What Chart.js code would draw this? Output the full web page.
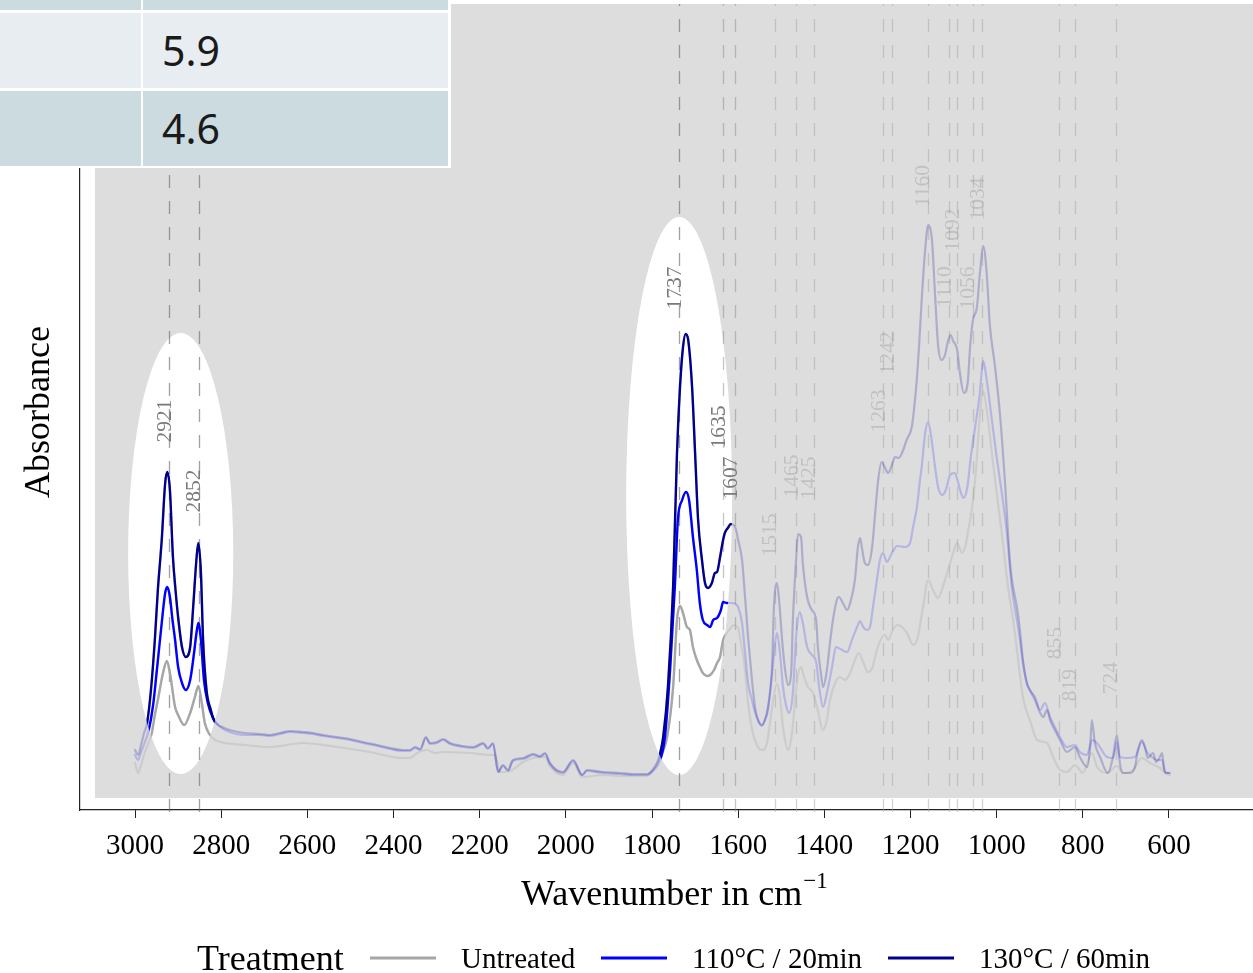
<!DOCTYPE html>
<html>
<head>
<meta charset="utf-8">
<title>FTIR spectra by treatment</title>
<script src="https://cdn.jsdelivr.net/npm/chart.js@4.4.1/dist/chart.umd.min.js"></script>
<style>
  html, body { margin: 0; padding: 0; background: #ffffff; }
  #wrap { position: relative; width: 1253px; height: 973px; overflow: hidden; }
  #spectra { position: absolute; left: 0; top: 0; }
  #summary { position: absolute; left: 0; top: 0; width: 451px; height: 168px; background: #ffffff; }
  #summary .cell { position: absolute; box-sizing: border-box; font-family: "Noto Sans", sans-serif; font-size: 41px; color: #1a1a1a; padding-left: 19px; white-space: nowrap; }
  #summary .odd { background: #cbdbe0; }
  #summary .even { background: #e8edf1; }
</style>
</head>
<body>
<div id="wrap">
  <canvas id="spectra" width="1253" height="973"></canvas>
  <div id="summary"></div>
</div>
<script>
// ---- spectra (wavenumber in cm^-1, absorbance) ----
const wnHarsh = [3000,2993,2986,2979,2972,2963,2954,2947,2938,2930,2925,2919,2912,2906,2900,2891,2882,2872,2865,2857,
  2853,2847,2842,2834,2824,2817,2807,2798,2780,2745,2710,2687,2663,2640,2610,2587,2564,2531,2501,2471,
  2438,2408,2378,2362,2350,2338,2325,2315,2299,2285,2269,2239,2215,2192,2181,2169,2157,2146,2134,2123,
  2099,2076,2060,2048,2037,2007,1983,1962,1951,1914,1874,1844,1812,1798,1788,1781,1774,1763,1751,1742,
  1735,1728,1722,1716,1707,1700,1693,1684,1677,1670,1661,1654,1649,1642,1635,1631,1624,1617,1607,1600,
  1591,1584,1577,1568,1561,1554,1545,1538,1531,1521,1517,1510,1505,1498,1491,1484,1477,1473,1466,1461,
  1454,1450,1440,1429,1419,1415,1408,1403,1394,1387,1380,1371,1366,1357,1347,1340,1329,1322,1317,1313,
  1306,1299,1289,1282,1275,1267,1259,1252,1243,1236,1227,1217,1209,1197,1192,1186,1180,1174,1166,1159,
  1150,1143,1136,1128,1120,1113,1107,1101,1092,1085,1076,1067,1062,1055,1046,1039,1031,1023,1016,1004,
  992,981,969,962,953,946,939,930,923,911,899,892,883,876,865,853,837,818,807,790,
  783,779,772,760,742,730,721,714,707,690,679,672,663,656,649,637,630,621,616,612,607,598];
const absHarsh = [0.050,0.045,0.055,0.067,0.077,0.110,0.160,0.210,0.260,0.317,0.328,0.310,0.243,0.210,0.183,0.153,0.143,0.153,0.193,0.243,
  0.257,0.227,0.160,0.110,0.090,0.080,0.075,0.073,0.070,0.067,0.066,0.065,0.067,0.069,0.068,0.067,0.065,0.063,0.061,0.058,
  0.055,0.052,0.050,0.050,0.053,0.051,0.063,0.057,0.058,0.061,0.057,0.054,0.053,0.057,0.052,0.057,0.028,0.035,0.030,0.040,
  0.042,0.046,0.044,0.047,0.037,0.028,0.040,0.025,0.030,0.028,0.027,0.026,0.026,0.030,0.037,0.047,0.063,0.113,0.213,0.347,
  0.413,0.453,0.466,0.460,0.413,0.347,0.280,0.240,0.217,0.212,0.217,0.227,0.228,0.243,0.260,0.267,0.272,0.276,0.273,0.260,
  0.240,0.203,0.163,0.120,0.093,0.080,0.075,0.080,0.090,0.137,0.193,0.217,0.200,0.160,0.130,0.115,0.127,0.180,0.237,0.266,
  0.263,0.237,0.203,0.190,0.180,0.153,0.127,0.113,0.130,0.157,0.180,0.200,0.203,0.197,0.190,0.197,0.220,0.253,0.262,0.253,
  0.237,0.235,0.253,0.287,0.320,0.338,0.332,0.327,0.335,0.343,0.342,0.350,0.360,0.373,0.390,0.417,0.455,0.500,0.550,0.575,
  0.559,0.505,0.455,0.440,0.445,0.459,0.465,0.459,0.451,0.426,0.407,0.418,0.451,0.480,0.492,0.526,0.554,0.526,0.476,0.434,
  0.384,0.320,0.237,0.213,0.193,0.170,0.140,0.117,0.110,0.100,0.087,0.083,0.090,0.080,0.070,0.060,0.048,0.053,0.043,0.033,
  0.053,0.080,0.057,0.043,0.027,0.043,0.065,0.037,0.027,0.027,0.033,0.050,0.060,0.053,0.042,0.047,0.038,0.043,0.047,0.033,0.027,0.027];

const wnMild = [3000,2993,2986,2977,2968,2958,2950,2944,2938,2930,2925,2919,2913,2907,2900,2891,2882,2872,2863,2858,
  2853,2847,2840,2831,2819,2807,2791,2745,2710,2687,2663,2640,2610,2587,2564,2531,2501,2471,2438,2408,
  2378,2362,2350,2338,2325,2315,2299,2285,2269,2239,2215,2192,2181,2169,2157,2146,2134,2123,2099,2076,
  2060,2048,2037,2007,1983,1962,1951,1914,1874,1844,1812,1798,1781,1770,1758,1747,1740,1730,1721,1714,
  1705,1696,1689,1682,1672,1665,1658,1649,1640,1635,1626,1614,1607,1600,1591,1584,1577,1568,1561,1554,
  1545,1538,1531,1521,1515,1510,1503,1496,1489,1482,1473,1466,1457,1450,1440,1429,1419,1412,1403,1394,
  1382,1373,1359,1347,1336,1324,1317,1310,1301,1294,1287,1278,1271,1264,1255,1243,1231,1213,1201,1194,
  1185,1178,1174,1166,1159,1151,1143,1136,1126,1118,1108,1097,1091,1085,1077,1068,1060,1050,1040,1031,
  1024,1012,1000,988,977,965,953,946,939,930,923,911,899,888,876,865,853,837,818,807,
  790,779,767,744,730,721,714,698,679,663,651,640,628,616,609,600];
const absMild = [0.045,0.040,0.048,0.058,0.070,0.095,0.127,0.152,0.177,0.207,0.213,0.203,0.180,0.160,0.133,0.117,0.110,0.120,0.147,0.165,
  0.177,0.160,0.120,0.097,0.082,0.075,0.070,0.065,0.065,0.064,0.066,0.068,0.067,0.066,0.064,0.062,0.060,0.057,0.054,0.051,
  0.049,0.049,0.052,0.050,0.062,0.056,0.057,0.060,0.056,0.053,0.052,0.056,0.051,0.056,0.028,0.034,0.029,0.039,0.041,0.045,
  0.043,0.046,0.036,0.027,0.039,0.025,0.029,0.027,0.026,0.025,0.025,0.029,0.040,0.063,0.130,0.213,0.280,0.300,0.308,0.300,
  0.263,0.230,0.197,0.180,0.175,0.173,0.180,0.182,0.190,0.198,0.197,0.197,0.196,0.193,0.177,0.147,0.117,0.100,0.088,0.080,
  0.074,0.080,0.093,0.127,0.155,0.167,0.147,0.113,0.095,0.087,0.107,0.160,0.188,0.177,0.153,0.145,0.138,0.113,0.093,0.107,
  0.133,0.153,0.150,0.148,0.160,0.173,0.179,0.173,0.170,0.173,0.193,0.220,0.240,0.247,0.238,0.247,0.254,0.253,0.257,0.273,
  0.293,0.320,0.333,0.367,0.378,0.360,0.333,0.313,0.305,0.310,0.325,0.327,0.320,0.310,0.302,0.313,0.343,0.373,0.403,0.439,
  0.423,0.383,0.343,0.307,0.270,0.213,0.180,0.160,0.137,0.117,0.110,0.103,0.090,0.097,0.083,0.073,0.063,0.053,0.055,0.048,
  0.045,0.060,0.057,0.043,0.042,0.058,0.043,0.042,0.043,0.058,0.048,0.043,0.040,0.040,0.028,0.027];

const wnUntreated = [3000,2993,2986,2977,2961,2954,2947,2935,2926,2919,2907,2900,2886,2872,2861,2853,2845,2838,2826,2814,
  2791,2745,2687,2610,2531,2455,2378,2362,2345,2322,2304,2285,2222,2176,2164,2153,2130,2099,2076,2048,
  2037,2007,1983,1962,1914,1874,1835,1812,1798,1781,1765,1751,1742,1735,1728,1719,1712,1705,1696,1689,
  1682,1672,1665,1656,1649,1642,1635,1626,1617,1610,1600,1596,1584,1577,1566,1554,1545,1533,1521,1510,
  1503,1496,1484,1475,1463,1454,1447,1438,1426,1417,1403,1394,1387,1375,1364,1352,1340,1329,1320,1310,
  1299,1289,1278,1266,1259,1252,1241,1231,1220,1208,1194,1183,1171,1159,1148,1136,1125,1113,1101,1092,
  1080,1071,1067,1057,1050,1039,1032,1020,1009,997,985,974,962,953,946,939,930,923,906,883,
  869,853,837,818,800,779,767,744,721,707,683,663,644,621,609,598];
const absUntreated = [0.037,0.027,0.035,0.048,0.067,0.085,0.100,0.127,0.139,0.127,0.093,0.085,0.075,0.087,0.103,0.114,0.097,0.077,0.065,0.060,
  0.057,0.055,0.053,0.057,0.053,0.048,0.042,0.042,0.047,0.050,0.047,0.048,0.047,0.045,0.045,0.028,0.029,0.038,0.042,0.043,
  0.034,0.025,0.037,0.023,0.025,0.024,0.024,0.024,0.031,0.043,0.063,0.113,0.180,0.194,0.187,0.173,0.170,0.153,0.140,0.133,
  0.127,0.124,0.125,0.130,0.137,0.143,0.160,0.167,0.172,0.175,0.172,0.163,0.130,0.097,0.067,0.053,0.050,0.057,0.093,0.116,
  0.103,0.073,0.050,0.067,0.120,0.133,0.123,0.113,0.107,0.093,0.070,0.080,0.100,0.117,0.123,0.120,0.127,0.140,0.147,0.138,
  0.128,0.132,0.150,0.163,0.165,0.160,0.170,0.175,0.173,0.167,0.155,0.163,0.193,0.220,0.210,0.202,0.213,0.230,0.247,0.257,
  0.247,0.257,0.267,0.293,0.320,0.384,0.409,0.380,0.339,0.297,0.256,0.214,0.181,0.150,0.125,0.103,0.088,0.080,0.060,0.057,
  0.043,0.030,0.028,0.035,0.027,0.047,0.033,0.027,0.034,0.027,0.030,0.042,0.037,0.032,0.027,0.025];

const treatments = ['Untreated', '110°C / 20min', '130°C / 60min'];
const treatmentColors = ['#a6a6a6', '#0000ff', '#00008b'];

// assigned band positions and where their labels sit (absorbance)
const peakPositions = [2921, 2852, 1737, 1635, 1607, 1515, 1465, 1425, 1263, 1242, 1160, 1110, 1092, 1056, 1034, 855, 819, 724];
const peakLabelLevels = [0.379, 0.309, 0.512, 0.373, 0.322, 0.265, 0.324, 0.322, 0.389, 0.447, 0.614, 0.513, 0.570, 0.512, 0.601, 0.157, 0.115, 0.122];
const highlightedPeaks = [2921, 2852, 1737, 1635, 1607];

// C-H stretch and C=O stretch windows (centre / half-width in cm^-1, level / half-height in absorbance)
const windowCentres = [2894, 1737];
const windowHalfWidths = [122, 123];
const windowLevels = [0.2465, 0.304];
const windowHalfHeights = [0.2205, 0.279];

const xTicks = [3000, 2800, 2600, 2400, 2200, 2000, 1800, 1600, 1400, 1200, 1000, 800, 600];
const summaryValues = ['', '5.9', '4.6'];

// ---- summary table ----
(function buildSummary() {
  const box = document.getElementById('summary');
  const rows = [{ top: -66, h: 75.5 }, { top: 12.5, h: 75.8 }, { top: 90.8, h: 75 }];
  rows.forEach((r, i) => {
    const cls = i % 2 === 1 ? 'even' : 'odd';
    const a = document.createElement('div');
    a.className = 'cell ' + cls;
    a.style.cssText = `left:0;top:${r.top}px;width:141px;height:${r.h}px;`;
    box.appendChild(a);
    const b = document.createElement('div');
    b.className = 'cell ' + cls;
    b.style.cssText = `left:143px;top:${r.top}px;width:305px;height:${r.h}px;line-height:${r.h}px;`;
    b.textContent = summaryValues[i];
    box.appendChild(b);
  });
})();

// ---- chart ----
function rgba(hex, a) {
  const n = parseInt(hex.slice(1), 16);
  return `rgba(${(n >> 16) & 255},${(n >> 8) & 255},${n & 255},${a})`;
}
const series = [
  { wn: wnUntreated, abs: absUntreated },
  { wn: wnMild, abs: absMild },
  { wn: wnHarsh, abs: absHarsh }
];
const contextAlpha = [0.3, 0.18, 0.22];
const toPoints = s => s.wn.map((w, i) => ({ x: w, y: s.abs[i] }));

const datasets = [];
series.forEach((s, i) => {
  datasets.push({
    label: treatments[i], data: toPoints(s), borderColor: treatmentColors[i],
    borderWidth: 2.4, emphasis: true, order: 3 - i
  });
  datasets.push({
    label: treatments[i] + ' (context)', data: toPoints(s),
    borderColor: rgba(treatmentColors[i], contextAlpha[i]),
    borderWidth: 2.2, emphasis: false, order: 10 - i
  });
});

function windowsPath(chart) {
  const xs = chart.scales.x, ys = chart.scales.y;
  const p = new Path2D();
  windowCentres.forEach((c, i) => {
    const cx = xs.getPixelForValue(c), cy = ys.getPixelForValue(windowLevels[i]);
    const rx = Math.abs(xs.getPixelForValue(c + windowHalfWidths[i]) - cx);
    const ry = Math.abs(ys.getPixelForValue(windowLevels[i] + windowHalfHeights[i]) - cy);
    p.moveTo(cx + rx, cy);
    p.ellipse(cx, cy, rx, ry, 0, 0, Math.PI * 2);
  });
  return p;
}

const SERIF = '"Liberation Serif", "Times New Roman", serif';

function guideColour(wn) {
  if (wn === 1635 || wn === 1607) return 'rgba(140,140,140,0.5)';
  return highlightedPeaks.includes(wn) ? 'rgba(110,110,110,0.65)' : 'rgba(165,165,165,0.5)';
}

const spectraDecor = {
  id: 'spectraDecor',
  beforeDraw(chart) {
    const { ctx, chartArea } = chart;
    ctx.save();
    ctx.fillStyle = '#ffffff';
    ctx.fillRect(0, 0, chart.width, chart.height);
    ctx.fillStyle = '#dddddd';
    ctx.fillRect(95, chartArea.top, chartArea.right - 95, 798 - chartArea.top);
    ctx.restore();
  },
  beforeDatasetsDraw(chart) {
    const { ctx, chartArea } = chart;
    const xs = chart.scales.x;
    ctx.save();
    ctx.fillStyle = '#ffffff';
    ctx.fill(windowsPath(chart));
    ctx.lineWidth = 1.3;
    ctx.setLineDash([13, 13]);
    peakPositions.forEach(wn => {
      const x = Math.round(xs.getPixelForValue(wn)) + 0.5;
      ctx.strokeStyle = guideColour(wn);
      ctx.beginPath();
      ctx.moveTo(x, chartArea.bottom + 2);
      ctx.lineTo(x, chartArea.top);
      ctx.stroke();
    });
    ctx.restore();
  },
  beforeDatasetDraw(chart, args) {
    const ds = chart.data.datasets[args.index];
    if (!ds.emphasis) return;
    chart.ctx.save();
    chart.ctx.clip(windowsPath(chart));
  },
  afterDatasetDraw(chart, args) {
    const ds = chart.data.datasets[args.index];
    if (!ds.emphasis) return;
    chart.ctx.restore();
  },
  afterDatasetsDraw(chart) {
    const { ctx } = chart;
    const xs = chart.scales.x, ys = chart.scales.y;
    ctx.save();
    ctx.font = '21.5px ' + SERIF;
    ctx.textAlign = 'center';
    ctx.textBaseline = 'alphabetic';
    peakPositions.forEach((wn, i) => {
      const x = xs.getPixelForValue(wn), y = ys.getPixelForValue(peakLabelLevels[i]);
      ctx.save();
      ctx.translate(x + 1.5, y);
      ctx.rotate(-Math.PI / 2);
      ctx.fillStyle = highlightedPeaks.includes(wn) ? '#7a7a7a' : 'rgba(160,160,160,0.45)';
      ctx.fillText(String(wn), 0, 0);
      ctx.restore();
    });
    ctx.restore();
  },
  afterDraw(chart) {
    const { ctx } = chart;
    ctx.save();
    ctx.fillStyle = '#000000';
    // y title
    ctx.save();
    ctx.translate(49, 412);
    ctx.rotate(-Math.PI / 2);
    ctx.font = '36px ' + SERIF;
    ctx.textAlign = 'center';
    ctx.textBaseline = 'alphabetic';
    ctx.fillText('Absorbance', 0, 0);
    ctx.restore();
    // x title with superscript unit
    ctx.font = '36px ' + SERIF;
    const main = 'Wavenumber in cm';
    const wMain = ctx.measureText(main).width;
    ctx.font = '23px ' + SERIF;
    const sup = '\u22121';
    const wSup = ctx.measureText(sup).width;
    const x0 = 674 - (wMain + wSup) / 2;
    ctx.textAlign = 'left';
    ctx.textBaseline = 'alphabetic';
    ctx.font = '36px ' + SERIF;
    ctx.fillText(main, x0, 905);
    ctx.font = '23px ' + SERIF;
    ctx.fillText(sup, x0 + wMain + 1, 888);
    // legend
    ctx.font = '36px ' + SERIF;
    ctx.fillText('Treatment', 197, 970);
    const swatchX = [370, 601, 888];
    ctx.font = '29px ' + SERIF;
    treatments.forEach((t, i) => {
      ctx.strokeStyle = treatmentColors[i];
      ctx.lineWidth = 3;
      ctx.beginPath();
      ctx.moveTo(swatchX[i], 958);
      ctx.lineTo(swatchX[i] + 66, 958);
      ctx.stroke();
      ctx.fillStyle = '#000000';
      ctx.fillText(t, swatchX[i] + 91, 968);
    });
    ctx.restore();
  }
};

new Chart(document.getElementById('spectra'), {
  type: 'line',
  data: { datasets },
  plugins: [spectraDecor],
  options: {
    responsive: false,
    animation: false,
    devicePixelRatio: 1,
    layout: { padding: { top: 4, right: 0, bottom: 0, left: 0 } },
    plugins: { legend: { display: false }, tooltip: { enabled: false }, title: { display: false } },
    elements: {
      point: { radius: 0 },
      line: { cubicInterpolationMode: 'monotone', borderCapStyle: 'round', borderJoinStyle: 'round' }
    },
    scales: {
      x: {
        type: 'linear', reverse: true, min: 405, max: 3127.7,
        afterFit: s => { s.height = 163; },
        afterBuildTicks: s => { s.ticks = xTicks.map(v => ({ value: v })); },
        ticks: {
          callback: v => String(v), color: '#000000', padding: 11,
          maxRotation: 0, autoSkip: false,
          font: { family: 'Liberation Serif', size: 29 }
        },
        grid: { drawOnChartArea: false, drawTicks: true, tickLength: 8, color: '#222222', lineWidth: 1 },
        border: { display: true, color: '#222222', width: 1.2 }
      },
      y: {
        min: -0.01, max: 0.796,
        afterFit: s => { s.width = 80; },
        ticks: { display: false },
        grid: { display: false },
        border: { display: true, color: '#222222', width: 1.2 }
      }
    }
  }
});
</script>
</body>
</html>
